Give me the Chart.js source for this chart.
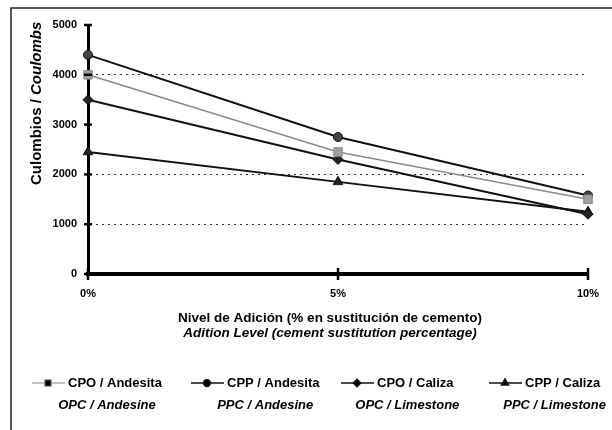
<!DOCTYPE html>
<html>
<head>
<meta charset="utf-8">
<script src="https://cdn.jsdelivr.net/npm/chart.js@4"></script>
<style>
  body { margin: 0; background: #fff; }
</style>
</head>
<body>
<canvas id="myChart" width="612" height="430"></canvas>
<script>
// data
const categories = ["0%", "5%", "10%"];
const namesEs = ["CPO / Andesita", "CPP / Andesita", "CPO / Caliza", "CPP / Caliza"];
const namesEn = ["OPC / Andesine", "PPC / Andesine", "OPC / Limestone", "PPC / Limestone"];
const cpoAndesita = [4000, 2450, 1500];
const cppAndesita = [4400, 2750, 1575];
const cpoCaliza = [3500, 2300, 1200];
const cppCaliza = [2450, 1850, 1250];
const yTicks = [0, 1000, 2000, 3000, 4000, 5000];
const gridValues = [0, 1000, 2000, 4000];

const FONT = "'Liberation Sans', Arial, sans-serif";
const legendTextX = [68, 227, 377, 525];

const frame = {
  id: "frame",
  beforeDraw(chart) {
    const c = chart.ctx;
    c.save();
    c.fillStyle = "#fff";
    c.fillRect(0, 0, chart.width, chart.height);
    c.strokeStyle = "#222";
    c.lineWidth = 1.5;
    c.beginPath();
    c.moveTo(11, chart.height);
    c.lineTo(11, 8);
    c.lineTo(chart.width, 8);
    c.stroke();
    c.restore();
  },
};

// tick marks crossing both axes
const crossTicks = {
  id: "crossTicks",
  afterDraw(chart) {
    const c = chart.ctx;
    const x = chart.scales.x, y = chart.scales.y;
    const area = chart.chartArea;
    c.save();
    c.strokeStyle = "#000";
    c.lineWidth = 2.5;
    yTicks.forEach(v => {
      const py = y.getPixelForValue(v);
      c.beginPath();
      c.moveTo(area.left - 4, py);
      c.lineTo(area.left + 4, py);
      c.stroke();
    });
    categories.forEach((_, i) => {
      const px = x.getPixelForValue(i);
      c.beginPath();
      c.moveTo(px, area.bottom - 6);
      c.lineTo(px, area.bottom + 6);
      c.stroke();
    });
    c.restore();
  },
};

const titles = {
  id: "titles",
  afterDraw(chart) {
    const c = chart.ctx;
    const area = chart.chartArea;
    c.save();
    c.fillStyle = "#000";
    // x title, two lines
    const cx = (area.left + area.right) / 2 - 8;
    c.textAlign = "center";
    c.textBaseline = "middle";
    c.font = "bold 13.5px " + FONT;
    c.fillText("Nivel de Adición (% en sustitución de cemento)", cx, area.bottom + 44);
    c.font = "italic bold 13.5px " + FONT;
    c.fillText("Adition Level (cement sustitution percentage)", cx, area.bottom + 59);

    // y title, rotated, mixed style
    c.translate(37, 185);
    c.rotate(-Math.PI / 2);
    c.textAlign = "left";
    c.font = "bold 15px " + FONT;
    const first = "Culombios / ";
    c.fillText(first, 0, 0);
    const w = c.measureText(first).width;
    c.font = "italic bold 15px " + FONT;
    c.fillText("Coulombs", w, 0);
    c.restore();
  },
};

const legendBox = {
  id: "legendBox",
  afterDraw(chart) {
    const c = chart.ctx;
    c.save();
    chart.data.datasets.forEach((ds, i) => {
      const tx = legendTextX[i];
      const y0 = 383;
      c.strokeStyle = ds.borderColor;
      c.lineWidth = ds.borderWidth > 1.5 ? 1.5 : 1;
      c.beginPath();
      c.moveTo(tx - 36, y0);
      c.lineTo(tx - 3, y0);
      c.stroke();
      Chart.helpers.drawPoint(c, {
        pointStyle: ds.pointStyle,
        radius: ds.pointRadius * 0.75,
        borderWidth: 1,
      }, tx - 20, y0);
      c.fillStyle = "#000";
      c.textBaseline = "middle";
      c.textAlign = "left";
      c.font = "bold 13px " + FONT;
      c.fillText(namesEs[i], tx, y0);
      const tw = c.measureText(namesEs[i]).width;
      c.textAlign = "center";
      c.font = "italic bold 13px " + FONT;
      c.fillText(namesEn[i], tx + tw / 2 - 8, y0 + 22);
    });
    c.restore();
  },
};

function series(label, data, color, fill, style, radius, width) {
  return {
    label: label,
    data: data,
    borderColor: color,
    backgroundColor: fill,
    pointBackgroundColor: fill,
    pointBorderColor: color,
    borderWidth: width,
    pointStyle: style,
    pointRadius: radius,
    pointBorderWidth: 1,
    tension: 0,
  };
}

const myChart = document.querySelector("#myChart");

new Chart(myChart, {
  type: "line",
  data: {
    labels: categories,
    datasets: [
      series(namesEs[0], cpoAndesita, "#8a8a8a", "#a0a0a0", "rect", 6, 1.5),
      series(namesEs[1], cppAndesita, "#111", "#444", "circle", 4.5, 2),
      series(namesEs[2], cpoCaliza, "#111", "#222", "rectRot", 5, 2),
      series(namesEs[3], cppCaliza, "#111", "#222", "triangle", 5.5, 2),
    ],
  },
  options: {
    responsive: false,
    animation: false,
    layout: { padding: { top: 25, right: 15, left: 0, bottom: 0 } },
    plugins: {
      legend: { display: false },
      tooltip: { enabled: false },
    },
    scales: {
      x: {
        grid: { display: false, drawTicks: false },
        border: { color: "#000", width: 4 },
        ticks: {
          color: "#000",
          padding: 13,
          maxRotation: 0,
          font: { family: FONT, size: 11, weight: "bold" },
        },
        afterFit(scale) { scale.height = 156; },
      },
      y: {
        min: 0,
        max: 5000,
        ticks: {
          stepSize: 1000,
          color: "#000",
          padding: 11,
          font: { family: FONT, size: 11, weight: "bold" },
          callback: v => String(v),
        },
        grid: {
          drawTicks: false,
          color: ctx => gridValues.includes(ctx.tick.value) ? "#333" : "rgba(0,0,0,0)",
          lineWidth: 1,
        },
        border: { color: "#000", width: 3, dash: [2, 4] },
        afterFit(scale) { scale.width = 88; },
      },
    },
  },
  plugins: [frame, crossTicks, titles, legendBox],
});
</script>
</body>
</html>
